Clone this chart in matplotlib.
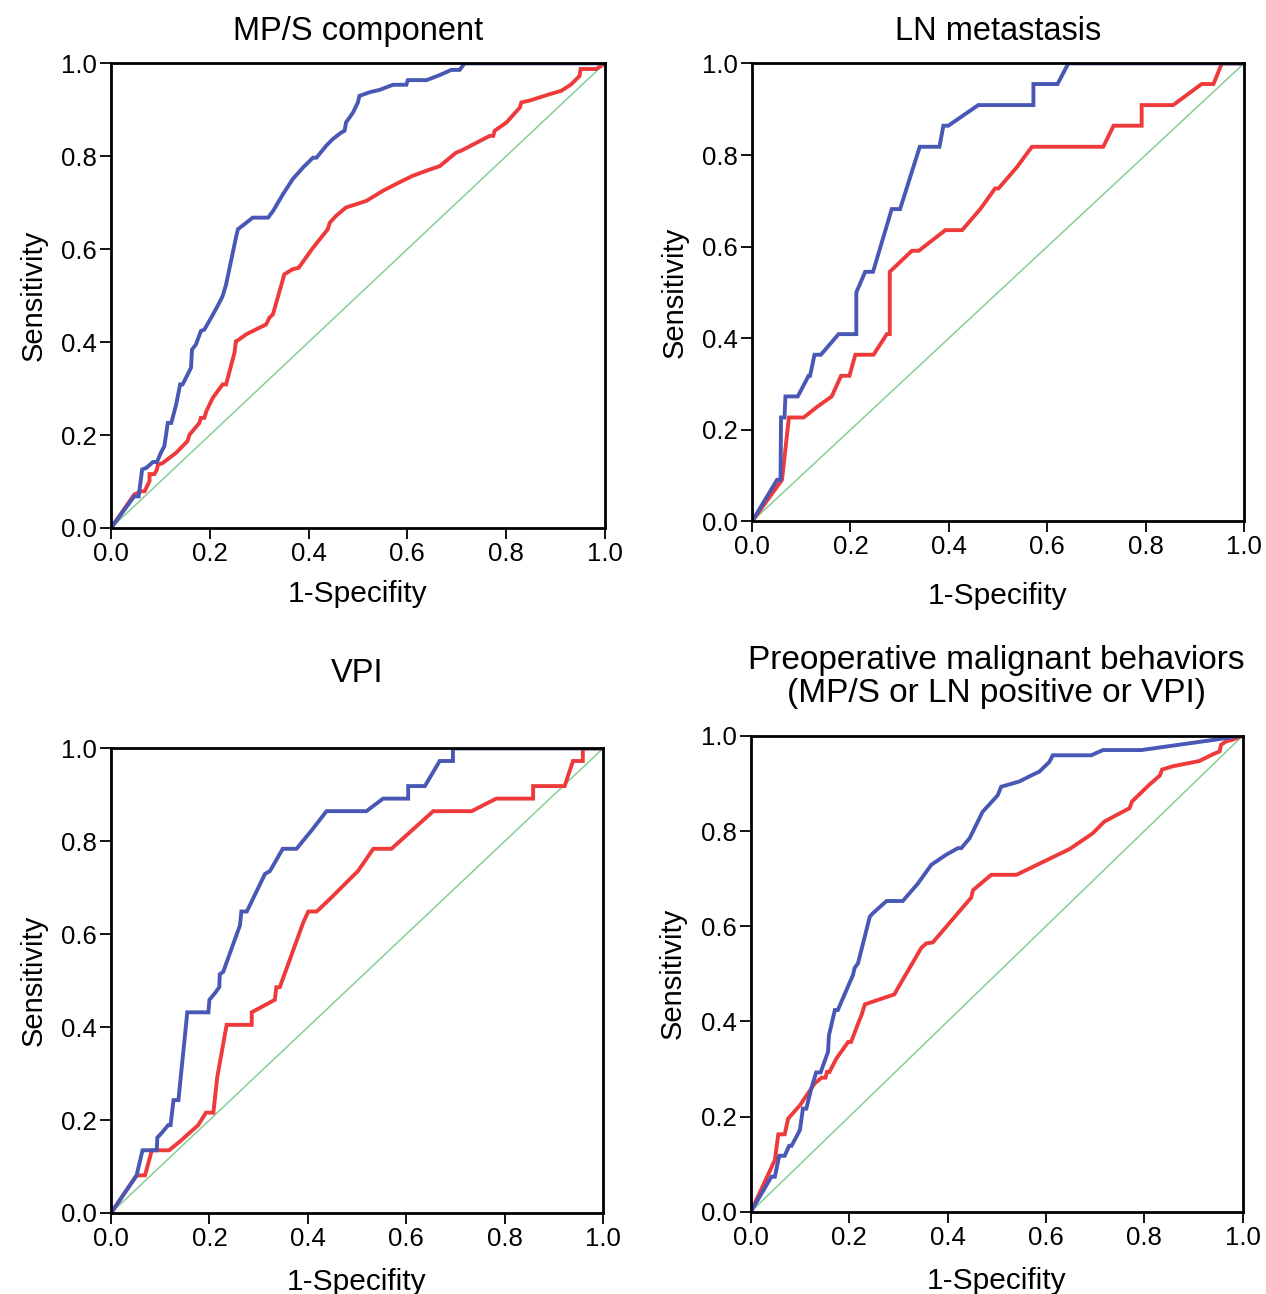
import matplotlib
matplotlib.use("Agg")
import matplotlib.pyplot as plt
from matplotlib.ticker import FormatStrFormatter

plt.rcParams['font.family'] = ['Liberation Sans', 'DejaVu Sans']

# panel titles
titles = ['MP/S component', 'LN metastasis', 'VPI',
          'Preoperative malignant behaviors\n(MP/S or LN positive or VPI)']

# MP/S component
fpr_b1 = [0, 0.047, 0.056, 0.063, 0.071, 0.085, 0.093, 0.101, 0.108, 0.115, 0.122, 0.132, 0.140, 0.145, 0.155,
          0.162, 0.164, 0.172, 0.182, 0.189, 0.203, 0.216, 0.226, 0.233, 0.253, 0.257, 0.274, 0.287, 0.318, 0.328,
          0.348, 0.368, 0.389, 0.409, 0.416, 0.436, 0.449, 0.466, 0.473, 0.476, 0.490, 0.500, 0.503, 0.524, 0.544,
          0.571, 0.598, 0.601, 0.639, 0.666, 0.689, 0.706, 0.716, 1.0]
tpr_b1 = [0, 0.068, 0.068, 0.126, 0.129, 0.142, 0.142, 0.162, 0.176, 0.226, 0.226, 0.266, 0.309, 0.309, 0.330,
          0.345, 0.384, 0.395, 0.424, 0.427, 0.453, 0.478, 0.499, 0.524, 0.625, 0.643, 0.657, 0.668, 0.668, 0.682,
          0.718, 0.751, 0.776, 0.797, 0.797, 0.823, 0.837, 0.851, 0.855, 0.873, 0.894, 0.916, 0.930, 0.938, 0.943,
          0.954, 0.954, 0.964, 0.964, 0.975, 0.986, 0.986, 1.0, 1.0]
fpr_r1 = [0, 0.047, 0.061, 0.068, 0.078, 0.078, 0.088, 0.093, 0.095, 0.105, 0.132, 0.155, 0.159, 0.179, 0.182,
          0.189, 0.193, 0.206, 0.226, 0.233, 0.250, 0.253, 0.257, 0.274, 0.314, 0.321, 0.328, 0.351, 0.368, 0.380,
          0.409, 0.439, 0.443, 0.456, 0.476, 0.497, 0.517, 0.551, 0.584, 0.611, 0.639, 0.666, 0.699, 0.709, 0.767,
          0.774, 0.777, 0.801, 0.828, 0.831, 0.848, 0.889, 0.912, 0.932, 0.949, 0.951, 0.983, 1.0]
tpr_r1 = [0, 0.072, 0.079, 0.079, 0.101, 0.116, 0.116, 0.126, 0.136, 0.140, 0.162, 0.187, 0.201, 0.226, 0.237,
          0.237, 0.251, 0.280, 0.309, 0.309, 0.377, 0.402, 0.404, 0.417, 0.438, 0.453, 0.460, 0.546, 0.557, 0.560,
          0.603, 0.643, 0.657, 0.672, 0.690, 0.697, 0.704, 0.726, 0.744, 0.758, 0.769, 0.779, 0.808, 0.812, 0.844,
          0.844, 0.855, 0.873, 0.905, 0.916, 0.920, 0.934, 0.941, 0.955, 0.973, 0.988, 0.988, 1.0]

# LN metastasis
fpr_b2 = [0, 0.051, 0.058, 0.059, 0.066, 0.068, 0.093, 0.115, 0.118, 0.127, 0.140, 0.176, 0.212, 0.212, 0.230,
          0.246, 0.284, 0.301, 0.341, 0.381, 0.389, 0.399, 0.460, 0.572, 0.572, 0.621, 0.643, 1.0]
tpr_b2 = [0, 0.091, 0.091, 0.227, 0.227, 0.273, 0.273, 0.318, 0.318, 0.364, 0.364, 0.409, 0.409, 0.5, 0.545,
          0.545, 0.682, 0.682, 0.818, 0.818, 0.864, 0.864, 0.909, 0.909, 0.955, 0.955, 1.0, 1.0]
fpr_r2 = [0, 0.061, 0.075, 0.105, 0.132, 0.162, 0.181, 0.198, 0.210, 0.247, 0.274, 0.280, 0.280, 0.325, 0.339,
          0.393, 0.427, 0.464, 0.494, 0.501, 0.538, 0.569, 0.714, 0.735, 0.792, 0.792, 0.856, 0.914, 0.938, 0.955, 1.0]
tpr_r2 = [0, 0.091, 0.227, 0.227, 0.250, 0.273, 0.318, 0.318, 0.364, 0.364, 0.409, 0.409, 0.545, 0.591, 0.591,
          0.636, 0.636, 0.682, 0.727, 0.727, 0.773, 0.818, 0.818, 0.864, 0.864, 0.909, 0.909, 0.955, 0.955, 1.0, 1.0]

# VPI
fpr_b3 = [0, 0.052, 0.064, 0.093, 0.094, 0.106, 0.116, 0.121, 0.127, 0.137, 0.155, 0.198, 0.200, 0.211, 0.220,
          0.221, 0.228, 0.262, 0.265, 0.276, 0.313, 0.323, 0.349, 0.377, 0.408, 0.438, 0.519, 0.553, 0.604, 0.604,
          0.638, 0.668, 0.695, 0.695, 1.0]
tpr_b3 = [0, 0.081, 0.135, 0.135, 0.162, 0.176, 0.189, 0.189, 0.243, 0.243, 0.432, 0.432, 0.459, 0.473, 0.486,
          0.514, 0.519, 0.619, 0.649, 0.649, 0.730, 0.736, 0.784, 0.784, 0.824, 0.865, 0.865, 0.892, 0.892, 0.919,
          0.919, 0.973, 0.973, 1.0, 1.0]
fpr_r3 = [0, 0.052, 0.069, 0.083, 0.118, 0.140, 0.177, 0.193, 0.208, 0.216, 0.235, 0.286, 0.286, 0.333, 0.336,
          0.343, 0.391, 0.401, 0.418, 0.445, 0.496, 0.502, 0.533, 0.570, 0.655, 0.733, 0.783, 0.858, 0.858, 0.922,
          0.939, 0.959, 0.959, 1.0]
tpr_r3 = [0, 0.081, 0.081, 0.135, 0.135, 0.154, 0.189, 0.216, 0.216, 0.293, 0.405, 0.405, 0.432, 0.459, 0.486,
          0.486, 0.626, 0.649, 0.649, 0.676, 0.730, 0.736, 0.784, 0.784, 0.865, 0.865, 0.892, 0.892, 0.919, 0.919,
          0.973, 0.973, 1.0, 1.0]

# Preoperative malignant behaviors
fpr_b4 = [0, 0.042, 0.049, 0.058, 0.069, 0.078, 0.083, 0.100, 0.106, 0.113, 0.123, 0.133, 0.142, 0.157, 0.159,
          0.171, 0.177, 0.208, 0.211, 0.218, 0.242, 0.248, 0.276, 0.309, 0.340, 0.367, 0.397, 0.421, 0.428, 0.445,
          0.465, 0.471, 0.502, 0.509, 0.526, 0.546, 0.567, 0.587, 0.607, 0.614, 0.692, 0.716, 0.794, 1.0]
tpr_b4 = [0, 0.074, 0.074, 0.118, 0.118, 0.139, 0.139, 0.172, 0.217, 0.217, 0.259, 0.293, 0.293, 0.336, 0.371,
          0.424, 0.424, 0.498, 0.512, 0.522, 0.620, 0.627, 0.653, 0.653, 0.690, 0.729, 0.750, 0.764, 0.764, 0.785,
          0.827, 0.840, 0.875, 0.893, 0.898, 0.904, 0.915, 0.925, 0.945, 0.959, 0.959, 0.970, 0.970, 1.0]
fpr_r4 = [0, 0.049, 0.056, 0.069, 0.076, 0.100, 0.130, 0.144, 0.152, 0.155, 0.160, 0.174, 0.198, 0.204, 0.221,
          0.225, 0.232, 0.292, 0.299, 0.347, 0.357, 0.370, 0.448, 0.452, 0.489, 0.540, 0.648, 0.695, 0.719, 0.770,
          0.775, 0.810, 0.832, 0.836, 0.858, 0.912, 0.939, 0.953, 0.956, 0.966, 0.980, 1.0]
tpr_r4 = [0, 0.109, 0.163, 0.163, 0.196, 0.224, 0.270, 0.282, 0.282, 0.294, 0.294, 0.322, 0.357, 0.357, 0.403,
          0.413, 0.436, 0.457, 0.470, 0.555, 0.564, 0.566, 0.660, 0.676, 0.708, 0.708, 0.762, 0.795, 0.820, 0.848,
          0.862, 0.897, 0.917, 0.929, 0.936, 0.947, 0.961, 0.967, 0.981, 0.988, 0.992, 1.0]

ticks = [0.0, 0.2, 0.4, 0.6, 0.8, 1.0]

blue_curves = [(fpr_b1, tpr_b1), (fpr_b2, tpr_b2), (fpr_b3, tpr_b3), (fpr_b4, tpr_b4)]
red_curves = [(fpr_r1, tpr_r1), (fpr_r2, tpr_r2), (fpr_r3, tpr_r3), (fpr_r4, tpr_r4)]

# axes boxes in figure fraction (left, bottom, width, height)
rects = [(0.0877, 0.592, 0.390, 0.359),
         (0.594, 0.597, 0.3886, 0.354),
         (0.0877, 0.0626, 0.3886, 0.359),
         (0.593, 0.0634, 0.3886, 0.368)]
title_pads = [17, 17, 48, 24]
xlabel_pads = [10, 16, 12, 12]

fig = plt.figure(figsize=(12.66, 12.94), dpi=100)

for i in range(4):
    ax = fig.add_axes(rects[i])
    ax.plot([0, 1], [0, 1], color='#86cf94', lw=1.1)
    ax.plot(red_curves[i][0], red_curves[i][1], color='#ee3a3a', lw=2.8, solid_joinstyle='miter')
    ax.plot(blue_curves[i][0], blue_curves[i][1], color='#4858b4', lw=2.8, solid_joinstyle='miter')
    ax.set_xlim(0, 1)
    ax.set_ylim(0, 1)
    ax.set_xticks(ticks)
    ax.set_yticks(ticks)
    ax.xaxis.set_major_formatter(FormatStrFormatter('%.1f'))
    ax.yaxis.set_major_formatter(FormatStrFormatter('%.1f'))
    ax.tick_params(direction='out', length=8, width=1.3, labelsize=18.5, pad=2)
    for sp in ax.spines.values():
        sp.set_linewidth(2.0)
    ax.set_xlabel('1-Specifity', fontsize=21.5, labelpad=xlabel_pads[i])
    ax.set_ylabel('Sensitivity', fontsize=21, labelpad=10)
    ax.set_title(titles[i], fontsize=23.5 if i < 3 else 24, pad=title_pads[i], linespacing=1.1)

fig.savefig('out.png', dpi=100)
